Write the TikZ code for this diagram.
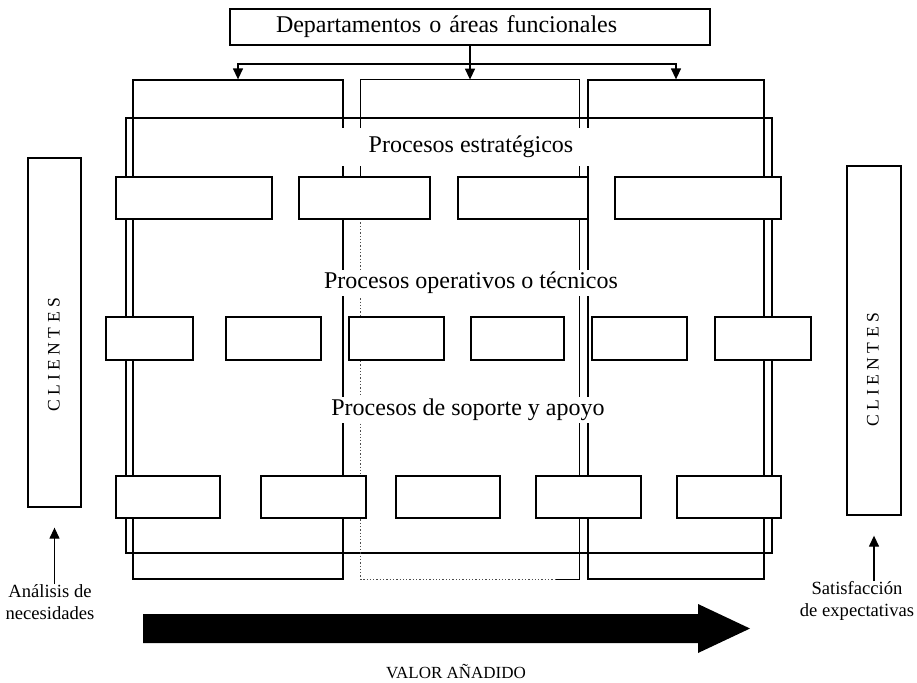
\documentclass[tikz,border=0pt]{standalone}
\usepackage{fontspec}
\setmainfont{Liberation Serif}
\usetikzlibrary{arrows.meta}
\newcommand{\pxu}{0.5pt}

\begin{document}
\begin{tikzpicture}[x=0.5pt, y=-0.5pt,
  linea/.style={line width=0.65pt},
  caja/.style={draw, linea, fill=white, inner sep=0pt},
  hueco/.style={draw, linea, inner sep=0pt},
  estbox/.style={caja, minimum height=42*\pxu},
  opebox/.style={caja, minimum height=43*\pxu},
  sopbox/.style={caja, minimum height=42*\pxu},
  etiqueta/.style={fill=white, inner sep=1pt, font=\fontsize{12}{14}\selectfont},
  nota/.style={align=center, inner sep=0pt, font=\fontsize{9.3}{11}\selectfont},
  flecha/.style={linea, -{Triangle[width=5pt, length=5.5pt]}}]
\useasboundingbox (0,0) rectangle (917,682);

% columnas (departamentos) y marco de procesos
\node[hueco, minimum width=210*\pxu, minimum height=499*\pxu] (col1) at (238,329.5) {};
\node[inner sep=0pt, minimum width=218*\pxu, minimum height=499*\pxu] (col2) at (470,329.5) {};
\node[hueco, minimum width=176*\pxu, minimum height=499*\pxu] (col3) at (676,329.5) {};
\node[hueco, minimum width=646*\pxu, minimum height=435*\pxu] (marco) at (449,335.5) {};

% columna central, lado izquierdo punteado
\draw[linea] (col2.west |- 0,219) -- (col2.north west) -- (col2.north east)
  -- (col2.south east) -- ++(-24,0);
\draw[linea, densely dotted, gray!60!black] (col2.west |- 0,219) -- (col2.south west)
  -- ([xshift=-24*\pxu]col2.south east);

% departamentos
\node[draw, linea, minimum width=480*\pxu, minimum height=36*\pxu, inner xsep=23pt,
  text width=194pt, align=left, font=\fontsize{12}{14}\selectfont] (dep) at (470,27)
  {Departamentos o áreas funcionales};
\coordinate (reparto) at (470,64);
\draw[flecha] (dep.south) -- (col2.north);
\draw[flecha] (reparto) -| (col1.north);
\draw[flecha] (reparto) -| (col3.north);

% titulos
\node[etiqueta, inner xsep=14pt, inner ysep=4pt] (lblEst) at (471,147) {Procesos estratégicos};
\node[etiqueta] (lblOpe) at (471,283) {Procesos operativos o técnicos};
\node[etiqueta] (lblSop) at (468,410) {Procesos de soporte y apoyo};

% procesos estrategicos
\node[estbox, minimum width=156*\pxu] (est1) at (194,198) {};
\node[estbox, minimum width=131*\pxu] (est2) at (364.5,198) {};
\node[estbox, minimum width=130*\pxu] (est3) at (523,198) {};
\node[estbox, minimum width=166*\pxu] (est4) at (698,198) {};

% procesos operativos
\node[opebox, minimum width=87*\pxu] (ope1) at (149.5,338.5) {};
\node[opebox, minimum width=95*\pxu] (ope2) at (273.5,338.5) {};
\node[opebox, minimum width=95*\pxu] (ope3) at (396.5,338.5) {};
\node[opebox, minimum width=93*\pxu] (ope4) at (517.5,338.5) {};
\node[opebox, minimum width=95*\pxu] (ope5) at (639.5,338.5) {};
\node[opebox, minimum width=96*\pxu] (ope6) at (763,338.5) {};

% procesos de soporte
\node[sopbox, minimum width=104*\pxu] (sop1) at (168,497) {};
\node[sopbox, minimum width=105*\pxu] (sop2) at (313.5,497) {};
\node[sopbox, minimum width=104*\pxu] (sop3) at (448,497) {};
\node[sopbox, minimum width=105*\pxu] (sop4) at (588.5,497) {};
\node[sopbox, minimum width=104*\pxu] (sop5) at (729,497) {};

% clientes
\node[caja, minimum width=53*\pxu, minimum height=349*\pxu] (cliIzq) at (54.5,332.5) {};
\node[rotate=90, font=\fontsize{8.8}{10}\selectfont] (txtIzq) at (54,355) {C L I E N T E S};
\node[caja, minimum width=54*\pxu, minimum height=349*\pxu] (cliDer) at (874,340.5) {};
\node[rotate=90, font=\fontsize{8.8}{10}\selectfont] (txtDer) at (873,370) {C L I E N T E S};

\node[nota] (necesid) at (50,602) {Análisis de\\necesidades};
\node[nota] (satisf) at (857,601) {Satisfacción\\de expectativas};
\draw[flecha, shorten >=10pt] (cliIzq.south |- necesid.north) -- (cliIzq.south);
\draw[flecha, shorten >=10pt] (cliDer.south |- satisf.north) -- (cliDer.south);

% valor anadido
\fill (143,614) -- (698,614) -- (698,604) -- (750,628.5) -- (698,653) -- (698,643)
  -- (143,643) -- cycle;
\node[font=\fontsize{8.5}{10}\selectfont] (valor) at (456,672) {VALOR AÑADIDO};

\end{tikzpicture}
\end{document}
